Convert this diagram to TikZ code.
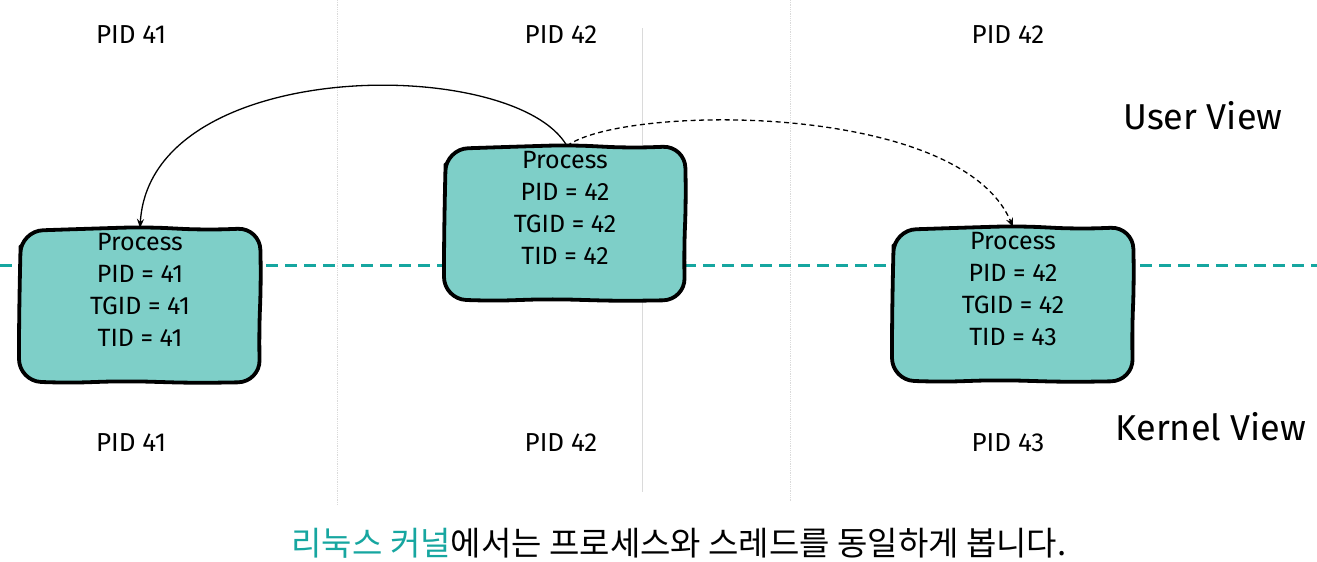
\documentclass[tikz,border=0pt]{standalone}
\usepackage{fontspec}
\setmainfont{Fira Sans}
\newfontfamily\kr{Noto Sans CJK KR}
\usetikzlibrary{arrows.meta}
\definecolor{boxfill}{RGB}{126,207,200}
\definecolor{tealline}{RGB}{22,166,160}
\definecolor{guide}{RGB}{218,218,218}
\newcommand\wobblybox[1]{%
  \draw[boxline] ([shift={(0,40)}]#1.north west) -- ([shift={(1,3)}]#1.north west)
   -- ([shift={(60,1)}]#1.north west) -- ([shift={(125,-1)}]#1.north west)
   -- ([shift={(185,2)}]#1.north west) -- ([shift={(240,0)}]#1.north west)
   -- ([shift={(241,55)}]#1.north west) -- ([shift={(239,105)}]#1.north west)
   -- ([shift={(240,154)}]#1.north west) -- ([shift={(175,155)}]#1.north west)
   -- ([shift={(105,153)}]#1.north west) -- ([shift={(45,155)}]#1.north west)
   -- ([shift={(-1,153)}]#1.north west) -- ([shift={(-1,100)}]#1.north west)
   -- cycle;}
\begin{document}
\begin{tikzpicture}[x=1pt,y=-1pt,
  lbl/.style={font=\fontsize{26}{30}\selectfont, inner sep=0pt},
  view/.style={font=\fontsize{36}{40}\selectfont, inner sep=0pt},
  procbox/.style={minimum width=240pt, minimum height=154pt, inner sep=0pt, outer sep=0pt},
  boxline/.style={draw=black, line width=3.8pt, fill=boxfill, rounded corners=22pt, line join=round},
  proctext/.style={align=center, font=\fontsize{25}{32}\selectfont, inner sep=0pt},
  link/.style={line width=1.3pt, -{Stealth[length=9pt,width=7pt]}}
]
\useasboundingbox[fill=white] (0,0) rectangle (1317,562);
% guide lines
\coordinate (g1t) at (337,0); \coordinate (g1b) at (337,505);
\coordinate (g2t) at (642,28); \coordinate (g2b) at (642,492);
\coordinate (g3t) at (790,0); \coordinate (g3b) at (790,502);
\draw[guide, line width=0.8pt, densely dotted] (g1t) -- (g1b);
\draw[guide, line width=0.8pt] (g2t) -- (g2b);
\draw[guide, line width=0.8pt, densely dotted] (g3t) -- (g3b);
% teal dashed divider
\coordinate (dl) at (0,265); \coordinate (dr) at (1317,265);
\draw[tealline, line width=3pt, dash pattern=on 12pt off 7pt] (dl) -- (dr);
% labels
\node[lbl] (u1) at (131,35) {PID 41};
\node[lbl] (u2) at (561,35) {PID 42};
\node[lbl] (u3) at (1008,35) {PID 42};
\node[lbl] (k1) at (131,443) {PID 41};
\node[lbl] (k2) at (561,443) {PID 42};
\node[lbl] (k3) at (1008,443) {PID 43};
\node[view] (uv) at (1203,116) {User View};
\node[view] (kv) at (1211,427) {Kernel View};
% boxes
\node[procbox] (b1) at (140,305) {};
\node[procbox] (b2) at (565,223) {};
\node[procbox] (b3) at (1013,304) {};
\wobblybox{b1}
\wobblybox{b2}
\wobblybox{b3}
\node[proctext] (t1) at (140,290) {Process\\PID = 41\\TGID = 41\\TID = 41};
\node[proctext] (t2) at (565,208) {Process\\PID = 42\\TGID = 42\\TID = 42};
\node[proctext] (t3) at (1013,289) {Process\\PID = 42\\TGID = 42\\TID = 43};
% connectors
\coordinate (s) at (567,146);
\draw[link] (s) .. controls (515,55) and (150,55) .. (b1.north -| t1);
\draw[link, dash pattern=on 5pt off 3.5pt] (s) .. controls (620,105) and (960,100) .. (b3.north -| t3);
% caption
\node[font=\kr\fontsize{33}{36}\selectfont, inner sep=0pt] (cap) at (679,543) {\textcolor{tealline}{리눅스 커널}에서는 프로세스와 스레드를 동일하게 봅니다.};
\end{tikzpicture}
\end{document}
